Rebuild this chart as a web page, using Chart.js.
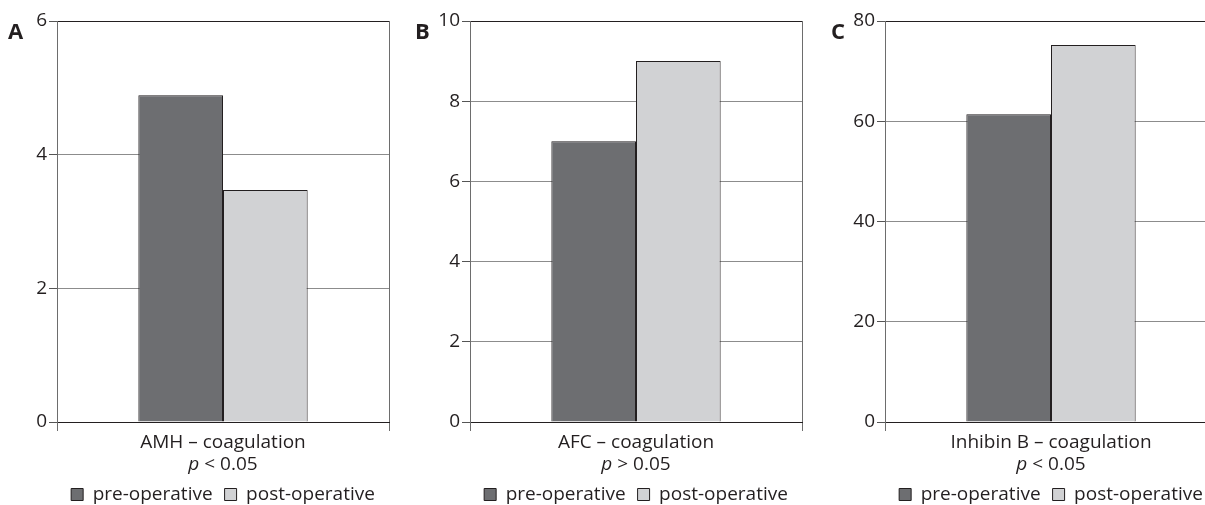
<!DOCTYPE html>
<html>
<head>
<meta charset="utf-8">
<script src="https://cdn.jsdelivr.net/npm/chart.js@4.4.0/dist/chart.umd.min.js"></script>
<style>
  html, body { margin: 0; padding: 0; background: #fff; overflow: hidden; }
  body { width: 1205px; height: 505px; position: relative; font-family: "Open Sans", sans-serif; }
  .panel { position: absolute; top: 0; height: 505px; }
  .letter { position: absolute; font-weight: bold; font-size: 22px; line-height: 1; color: #231f20; }
</style>
</head>
<body>
<div class="panel" style="left:0px;width:400px"><canvas id="chart0" width="400" height="505"></canvas></div>
<div class="panel" style="left:400px;width:405px"><canvas id="chart1" width="405" height="505"></canvas></div>
<div class="panel" style="left:805px;width:415px"><canvas id="chart2" width="415" height="505"></canvas></div>
<div class="letter" style="left:8px;top:19px">A</div>
<div class="letter" style="left:415px;top:19px">B</div>
<div class="letter" style="left:831px;top:19px">C</div>
<script>
// chart data
const categories = ['AMH – coagulation', 'AFC – coagulation', 'Inhibin B – coagulation'];
const pValues = ['< 0.05', '> 0.05', '< 0.05'];
const seriesNames = ['pre-operative', 'post-operative'];
const preOperative = [4.89, 7.0, 61.4];
const postOperative = [3.47, 9.0, 75.2];
const yMax = [6, 10, 80];
const yStep = [2, 2, 20];

// layout of each panel (y axis width, right padding)
const axisWidth = [57, 70, 80];
const padRight = [11, 3, 3];

const ink = '#231f20';
Chart.defaults.font.family = '"Open Sans", sans-serif';
Chart.defaults.font.size = 19;
Chart.defaults.color = ink;

// second line under the category: italic p + the rest
const pLinePlugin = {
    id: 'pLine',
    afterDraw(chart, args, opts) {
        const ctx = chart.ctx;
        const area = chart.chartArea;
        ctx.save();
        ctx.fillStyle = ink;
        ctx.textBaseline = 'alphabetic';
        ctx.font = 'italic 19px "Open Sans"';
        const wP = ctx.measureText('p').width;
        ctx.font = '19px "Open Sans"';
        const rest = ' ' + opts.text;
        const wR = ctx.measureText(rest).width;
        const x0 = (area.left + area.right) / 2 - (wP + wR) / 2;
        const y = area.bottom + 48;
        ctx.font = 'italic 19px "Open Sans"';
        ctx.fillText('p', x0, y);
        ctx.font = '19px "Open Sans"';
        ctx.fillText(rest, x0 + wP, y);
        ctx.restore();
    }
};

for (let i = 0; i < 3; i++) {
    const ctx = document.getElementById('chart' + i).getContext('2d');
    new Chart(ctx, {
        type: 'bar',
        data: {
            labels: [categories[i]],
            datasets: [{
                label: seriesNames[0],
                data: [preOperative[i]],
                backgroundColor: '#6d6e71',
                borderColor: ink,
                borderWidth: 1
            }, {
                label: seriesNames[1],
                data: [postOperative[i]],
                backgroundColor: '#d1d2d4',
                borderColor: ink,
                borderWidth: 1
            }]
        },
        options: {
            responsive: false,
            animation: false,
            layout: { padding: { left: 0, right: padRight[i], top: 21, bottom: 0 } },
            categoryPercentage: 0.51,
            barPercentage: 1,
            scales: {
                x: {
                    afterFit: (s) => { s.height = 51; },
                    grid: { offset: true, color: '#6d6d6d', tickColor: '#6d6d6d', tickLength: 9 },
                    border: { color: ink, width: 1 },
                    ticks: { padding: 0, color: ink, maxRotation: 0 }
                },
                y: {
                    min: 0,
                    max: yMax[i],
                    afterFit: (s) => { s.width = axisWidth[i]; },
                    ticks: { stepSize: yStep[i], padding: 2, color: ink },
                    grid: {
                        color: (c) => c.tick && c.tick.value === yMax[i] ? ink : '#8c8c8c',
                        tickColor: '#555',
                        tickLength: 8
                    },
                    border: { color: '#6d6d6d' }
                }
            },
            plugins: {
                legend: {
                    position: 'bottom',
                    fullSize: false,
                    maxHeight: 32,
                    labels: { boxWidth: 12, boxHeight: 12, padding: 12, color: ink }
                },
                tooltip: { enabled: false },
                pLine: { text: pValues[i] }
            }
        },
        plugins: [pLinePlugin]
    });
}
</script>
</body>
</html>
